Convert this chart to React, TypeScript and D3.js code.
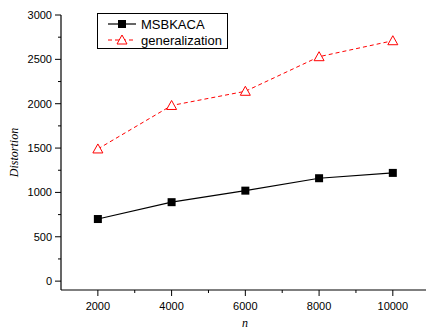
import React from "react";
import * as d3 from "d3";

const categories = [2000, 4000, 6000, 8000, 10000];
const msbkaca = [700, 890, 1020, 1160, 1220];
const generalization = [1490, 1980, 2140, 2530, 2710];
const xTicks = [2000, 4000, 6000, 8000, 10000];
const xMinor = [3000, 5000, 7000, 9000];
const yTicks = [0, 500, 1000, 1500, 2000, 2500, 3000];
const yMinor = [250, 750, 1250, 1750, 2250, 2750];

export default function App() {
  const W = 427, H = 333;
  const x = d3.scaleLinear().domain([1000, 10900]).range([61, 426]);
  const y = d3.scaleLinear().domain([-100, 3000]).range([290, 15]);
  const line = d3.line<number>().x((_, i) => x(categories[i])).y(d => y(d));
  const font = "'Liberation Sans', Arial, sans-serif";
  return (
    <svg width={W} height={H} style={{ position: "absolute", left: 0, top: 0 }}>
      <rect width={W} height={H} fill="#fff" />
      {/* axes */}
      <line x1={61} x2={61} y1={y(3000)} y2={290} stroke="#000" strokeWidth={1.2} />
      <line x1={61} x2={426} y1={290} y2={290} stroke="#000" strokeWidth={1.2} />
      {yTicks.map(t => (
        <g key={"y" + t}>
          <line x1={55} x2={61} y1={y(t)} y2={y(t)} stroke="#000" />
          <text x={52} y={y(t)} dy="0.35em" textAnchor="end" fontFamily={font} fontSize={11} fill="#000">{t}</text>
        </g>
      ))}
      {yMinor.map(t => (
        <line key={"ym" + t} x1={58} x2={61} y1={y(t)} y2={y(t)} stroke="#000" />
      ))}
      {xTicks.map(t => (
        <g key={"x" + t}>
          <line x1={x(t)} x2={x(t)} y1={290} y2={296} stroke="#000" />
          <text x={x(t)} y={310} textAnchor="middle" fontFamily={font} fontSize={11} fill="#000">{t}</text>
        </g>
      ))}
      {xMinor.map(t => (
        <line key={"xm" + t} x1={x(t)} x2={x(t)} y1={290} y2={293} stroke="#000" />
      ))}
      <text x={245} y={327} textAnchor="middle" fontFamily="'Liberation Serif', 'Times New Roman', serif" fontStyle="italic" fontSize={12}>n</text>
      <text transform={`translate(18,${y(1450)}) rotate(-90)`} textAnchor="middle" fontFamily="'Liberation Serif', 'Times New Roman', serif" fontStyle="italic" fontSize={12}>Distortion</text>
      {/* series */}
      <path d={line(msbkaca) || ""} fill="none" stroke="#000" strokeWidth={1.2} />
      {msbkaca.map((v, i) => (
        <rect key={"m" + i} x={x(categories[i]) - 4} y={y(v) - 4} width={8} height={8} fill="#000" />
      ))}
      <path d={line(generalization) || ""} fill="none" stroke="#ff0000" strokeWidth={1} strokeDasharray="4,3" />
      {generalization.map((v, i) => {
        const cx = x(categories[i]), cy = y(v);
        return <path key={"g" + i} d={`M${cx},${cy - 5}L${cx + 5},${cy + 4}L${cx - 5},${cy + 4}Z`} fill="#fff" stroke="#ff0000" strokeWidth={1} />;
      })}
      {/* legend */}
      <rect x={97.5} y={13.5} width={130} height={35} fill="#fff" stroke="#000" strokeWidth={1} />
      <line x1={108} x2={136} y1={24} y2={24} stroke="#000" strokeWidth={1.2} />
      <rect x={118} y={20} width={8} height={8} fill="#000" />
      <text x={141} y={24} dy="0.35em" fontFamily={font} fontSize={13}>MSBKACA</text>
      <line x1={108} x2={136} y1={40} y2={40} stroke="#ff0000" strokeDasharray="4,3" />
      <path d="M122,35L127,44L117,44Z" fill="#fff" stroke="#ff0000" />
      <text x={141} y={40} dy="0.35em" fontFamily={font} fontSize={13}>generalization</text>
    </svg>
  );
}
